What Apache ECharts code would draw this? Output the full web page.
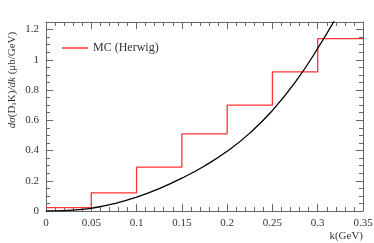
<!DOCTYPE html>
<html><head><meta charset="utf-8">
<script src="https://cdn.jsdelivr.net/npm/echarts@6/dist/echarts.min.js"></script>
<style>html,body{margin:0;padding:0;background:#fff}#c{width:374px;height:243px}</style>
</head><body><div id="c"></div>
<script>
// Histogram (MC Herwig): bin edges and bin values
const binEdges = [0, 0.05, 0.1, 0.15, 0.2, 0.25, 0.3, 0.35];
const mcValues = [0.022, 0.12, 0.29, 0.51, 0.70, 0.92, 1.14];
// Black theory curve
const curveK = [0, 0.02, 0.04, 0.05, 0.075, 0.1, 0.125, 0.15, 0.175, 0.2, 0.225, 0.25, 0.275, 0.3, 0.325];
const curveY = [0, 0.003, 0.011, 0.018, 0.048, 0.091, 0.148, 0.217, 0.298, 0.395, 0.515, 0.665, 0.85, 1.075, 1.33];
const xTicks = [0, 0.05, 0.1, 0.15, 0.2, 0.25, 0.3, 0.35];
const yTicks = [0, 0.2, 0.4, 0.6, 0.8, 1, 1.2];

const stepData = binEdges.map((e, i) => [e, i < mcValues.length ? mcValues[i] : mcValues[mcValues.length - 1]]);
const curveData = curveK.map((k, i) => [k, curveY[i]]);

const font = 'Liberation Serif';
const axisCol = '#666';
function xAx(pos, labels) {
  return {
    type: 'value', position: pos, min: 0, max: 0.35, interval: 0.05,
    axisLine: { show: true, onZero: false, lineStyle: { color: axisCol, width: 1 } },
    axisTick: { show: true, inside: true, length: 7, lineStyle: { color: axisCol } },
    minorTick: { show: true, splitNumber: 5, length: 4, lineStyle: { color: axisCol } },
    splitLine: { show: false },
    axisLabel: { show: labels, fontFamily: font, fontSize: 11, color: '#333', margin: 7,
      formatter: v => xTicks.includes(+v.toFixed(2)) ? String(+v.toFixed(2)) : '' },
    name: labels ? 'k(GeV)' : '', nameLocation: 'end',
    nameTextStyle: { fontFamily: font, fontSize: 11, color: '#333', align: 'right', verticalAlign: 'top', padding: [20, 0, 0, 0] },
    nameGap: 0
  };
}
function yAx(pos, labels) {
  return {
    type: 'value', position: pos, min: 0, max: 1.25, interval: 0.2,
    axisLine: { show: true, onZero: false, lineStyle: { color: axisCol, width: 1 } },
    axisTick: { show: true, inside: true, length: 7, lineStyle: { color: axisCol } },
    minorTick: { show: true, splitNumber: 4, length: 4, lineStyle: { color: axisCol } },
    splitLine: { show: false },
    axisLabel: { show: labels, fontFamily: font, fontSize: 11, color: '#333', margin: 7, showMaxLabel: false,
      formatter: v => yTicks.includes(+v.toFixed(2)) ? String(+v.toFixed(2)) : '' }
  };
}
const chart = echarts.init(document.getElementById('c'), null, { renderer: 'canvas' });
chart.setOption({
  animation: false,
  backgroundColor: '#fff',
  grid: { left: 46, right: 11, top: 22, bottom: 32, containLabel: false, outerBoundsMode: 'none' },
  xAxis: [xAx('bottom', true), xAx('top', false)],
  yAxis: [yAx('left', true), yAx('right', false)],
  legend: {
    left: 57, top: 37, itemWidth: 26, itemHeight: 1.5, itemGap: 5,
    data: [{ name: 'MC (Herwig)', icon: 'rect' }],
    textStyle: { fontFamily: font, fontSize: 12, color: '#333' }
  },
  graphic: [{
    type: 'text', x: 12, y: 80, rotation: Math.PI / 2,
    style: {
      text: '{i|dσ}(D{s|1}K){i|/dk} (μb/GeV)', align: 'center', verticalAlign: 'middle',
      font: '11px "Liberation Serif"', fill: '#333',
      rich: { i: { fontFamily: font, fontStyle: 'italic', fontSize: 11, fill: '#333' },
              s: { fontFamily: font, fontSize: 7, fill: '#333', padding: [5, 0, 0, 0] } }
    }
  }],
  series: [
    { name: 'MC (Herwig)', type: 'line', step: 'end', data: stepData, symbol: 'none',
      lineStyle: { color: '#ff3333', width: 1.3 }, itemStyle: { color: '#ff3333' }, z: 2 },
    { name: 'curve', type: 'line', smooth: true, data: curveData, symbol: 'none', clip: true,
      lineStyle: { color: '#000', width: 1.3 }, itemStyle: { color: '#000' }, z: 3 }
  ]
});
</script></body></html>
